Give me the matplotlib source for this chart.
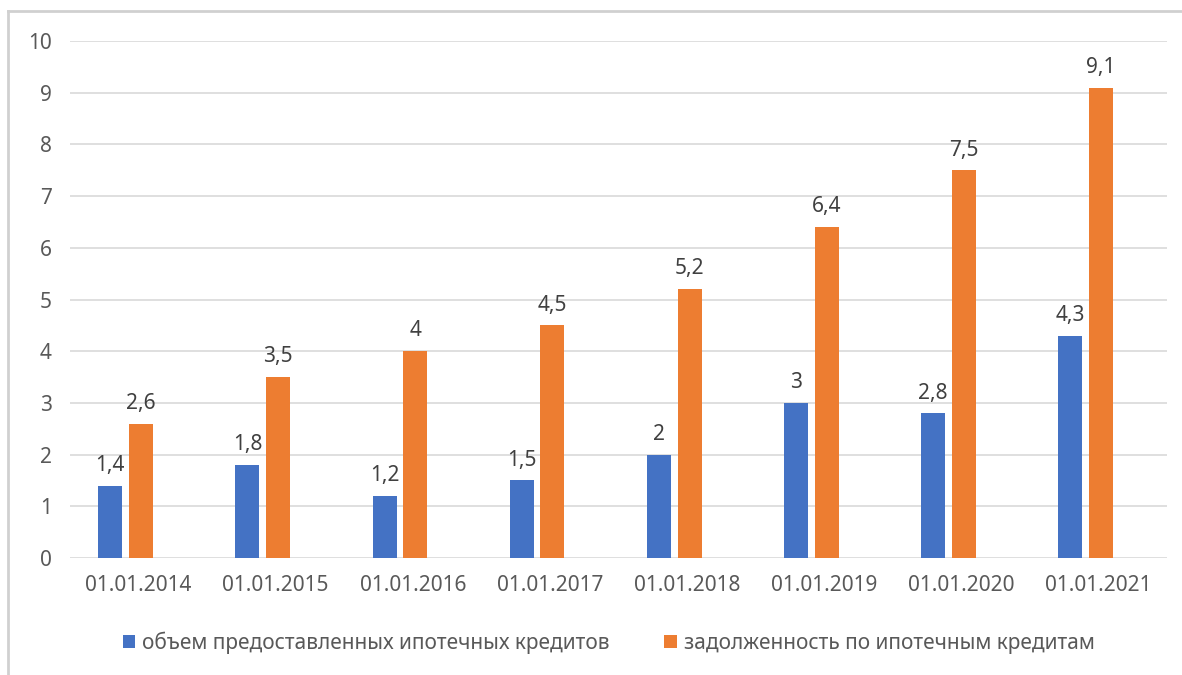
import numpy as np
import matplotlib
matplotlib.use('Agg')
import matplotlib.pyplot as plt
from matplotlib.lines import Line2D

plt.rcParams['font.family'] = ['Noto Sans', 'DejaVu Sans']

dates = ['01.01.2014', '01.01.2015', '01.01.2016', '01.01.2017',
         '01.01.2018', '01.01.2019', '01.01.2020', '01.01.2021']
issued = [1.4, 1.8, 1.2, 1.5, 2, 3, 2.8, 4.3]
debt = [2.6, 3.5, 4, 4.5, 5.2, 6.4, 7.5, 9.1]
issued_name = 'объем предоставленных ипотечных кредитов'
debt_name = 'задолженность по ипотечным кредитам'

blue = '#4472C4'
orange = '#ED7D31'
text_col = '#595959'
grid_col = '#D9D9D9'

fig = plt.figure(figsize=(11.82, 6.75), dpi=100)
ax = fig.add_axes([70 / 1182, 1 - 558 / 675, 1097 / 1182, 517 / 675])

x = np.arange(len(dates))
w = 0.175
b1 = ax.bar(x - 0.206, issued, width=w, color=blue, label=issued_name, zorder=3)
b2 = ax.bar(x + 0.018, debt, width=w, color=orange, label=debt_name, zorder=3)

def fmt(v):
    return ('%g' % v).replace('.', ',')

for bars, vals in ((b1, issued), (b2, debt)):
    for rect, v in zip(bars, vals):
        ax.annotate(fmt(v), (rect.get_x() + rect.get_width() / 2, v),
                    xytext=(0, 7), textcoords='offset points',
                    ha='center', va='bottom', fontsize=15, color='#404040')

ax.set_xlim(-0.5, len(dates) - 0.5)
ax.set_ylim(0, 10)
ax.set_yticks(range(0, 11))
ax.set_xticks(x)
ax.set_xticklabels(dates)
ax.tick_params(axis='both', length=0, labelsize=15, labelcolor=text_col)
ax.tick_params(axis='y', pad=13)
ax.tick_params(axis='x', pad=12)
ax.grid(axis='y', color=grid_col, linewidth=1.2, zorder=0)
for s in ax.spines.values():
    s.set_visible(False)

fig.legend(handles=[b1, b2], loc='center', bbox_to_anchor=(0.515, 1 - 643 / 675),
           ncol=2, frameon=False, fontsize=15, labelcolor=text_col,
           handlelength=0.6, handleheight=0.6, handletextpad=0.35,
           columnspacing=2.6)

# рамка диаграммы
fig.add_artist(Line2D([8 / 1182, 8 / 1182], [0, 1 - 11 / 675],
                      transform=fig.transFigure, color='#D0D0D0', linewidth=2))
fig.add_artist(Line2D([8 / 1182, 1], [1 - 11 / 675, 1 - 11 / 675],
                      transform=fig.transFigure, color='#D0D0D0', linewidth=2))

fig.savefig('out.png', dpi=100)
